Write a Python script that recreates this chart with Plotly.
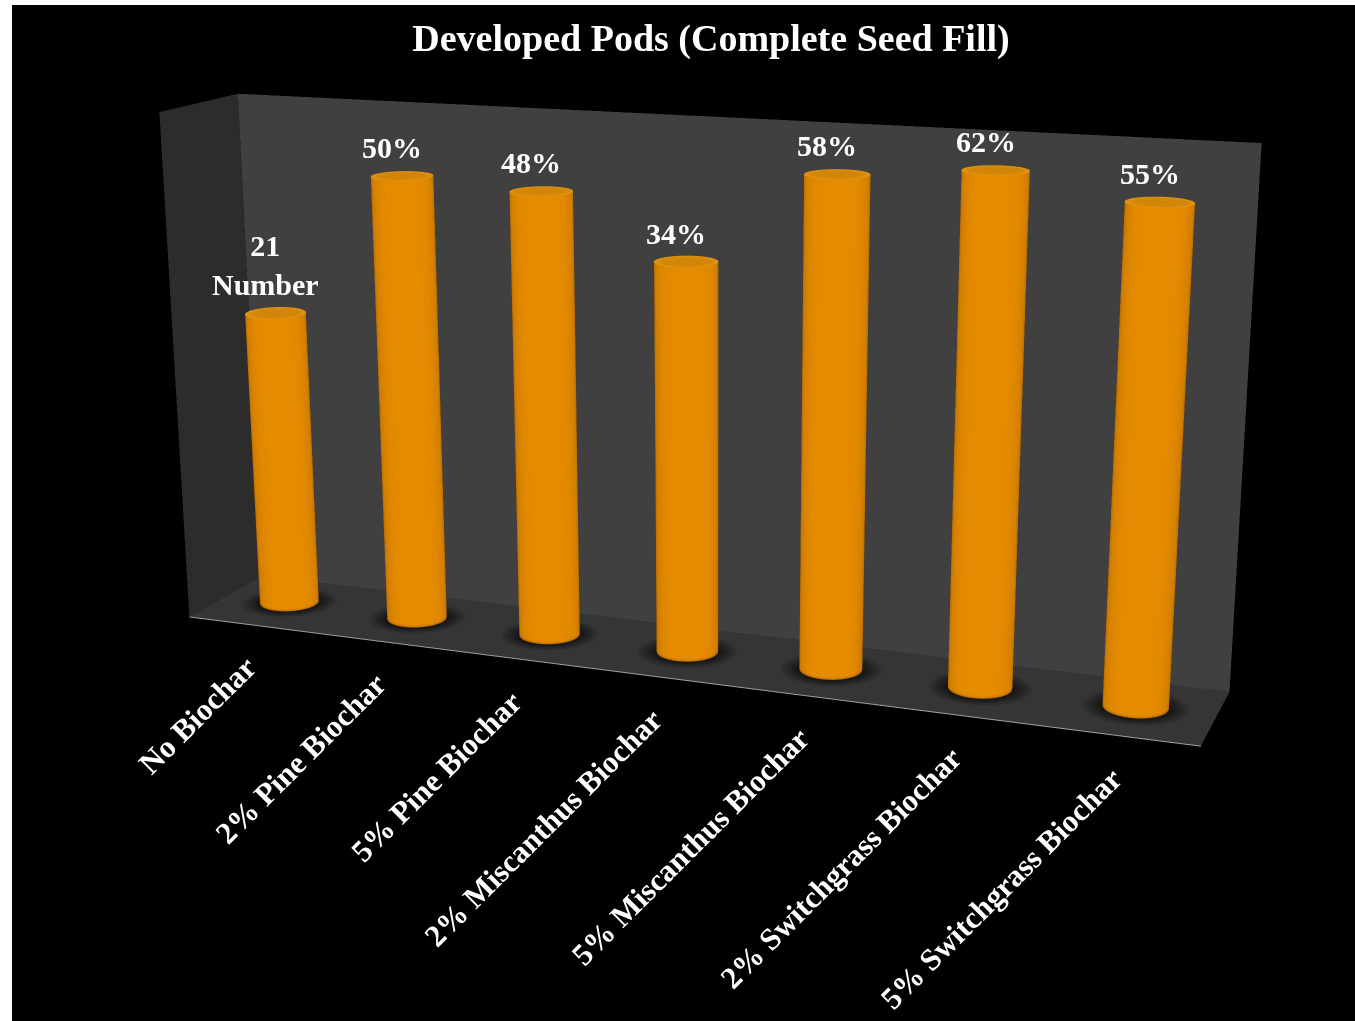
import numpy as np
import plotly.graph_objects as go

categories = ["No Biochar", "2% Pine Biochar", "5% Pine Biochar", "2% Miscanthus Biochar",
              "5% Miscanthus Biochar", "2% Switchgrass Biochar", "5% Switchgrass Biochar"]
values = [21, 50, 48, 34, 58, 62, 55]
value_labels = ["21<br>Number", "50%", "48%", "34%", "58%", "62%", "55%"]
title_text = "Developed Pods (Complete Seed Fill)"

Z_MIN, Z_MAX = 3.4, 72.0
ASPECT = dict(x=2.0, y=0.2878, z=0.9982)
EYE = dict(x=1.6803, y=-4.3834, z=1.1495)
CENTER = dict(x=-0.0513, y=0.1208, z=-0.26)
UP = dict(x=-0.0786, y=0.2145, z=1.0)
FONT = "Liberation Serif"

# The reference has a long-lens perspective (about 19 degrees) while a Plotly scene always
# uses 45 degrees: draw a larger scene and show its central part through the page.
CANVAS_W, CANVAS_H = 1600, 2168
PAGE_LEFT, PAGE_TOP = -116, -571
FRAME_LEFT, FRAME_TOP = 12, 5

RX = 0.205
RY = RX / 7 * ASPECT["x"] / ASPECT["y"]
BAR_Y = 0.51
LIGHT = dict(ambient=1, diffuse=0, specular=0, fresnel=0, roughness=1)
FLOOR = "#353535"


def panel(xs, ys, zs, color):
    return go.Mesh3d(x=xs, y=ys, z=zs, i=[0, 0], j=[1, 2], k=[2, 3], color=color,
                     flatshading=True, lighting=LIGHT, hoverinfo="skip", showscale=False)


fig = go.Figure()
Z_FLOOR = Z_MIN * 1.003
fig.add_trace(panel([0, 7, 7, 0], [1, 1, 1, 1], [Z_FLOOR, Z_FLOOR, Z_MAX, Z_MAX], "#404040"))
fig.add_trace(panel([0, 0, 0, 0], [0, 1, 1, 0], [Z_FLOOR, Z_FLOOR, Z_MAX, Z_MAX], "#2c2c2c"))
fig.add_trace(panel([0, 7, 7, 0], [0, 0, 1, 1], [Z_FLOOR] * 4, FLOOR))
fig.add_trace(go.Scatter3d(x=[0, 7], y=[0, 0], z=[Z_FLOOR, Z_FLOOR], mode="lines",
                           line=dict(color="#a0a0a0", width=2), hoverinfo="skip", showlegend=False))

theta = np.linspace(0, 2 * np.pi, 121)
body_scale = [[0, "#7a3a00"], [0.08, "#b06400"], [0.35, "#d07e00"], [0.7, "#e08800"], [1, "#e68c00"]]
shadow_scale = [[0, "#121212"], [0.62, "#161616"], [1, FLOOR]]
cap_scale = [[0, "#d08408"], [0.78, "#d48808"], [1, "#e49814"]]

rr = np.linspace(0, 1, 14)
R, T = np.meshgrid(rr, theta)
for i, v in enumerate(values):
    cx = i + 0.5
    view = np.array([EYE["x"] - (cx / 7 - 0.5) * ASPECT["x"],
                     EYE["y"] - (BAR_Y - 0.5) * ASPECT["y"]])
    view = view / np.linalg.norm(view)
    fig.add_trace(go.Surface(x=cx + 1.65 * RX * R * np.cos(T), y=BAR_Y + 1.65 * RY * R * np.sin(T),
                             z=np.full(R.shape, Z_MIN * 1.008), surfacecolor=R,
                             colorscale=shadow_scale, cmin=0, cmax=1, showscale=False,
                             lighting=LIGHT, hoverinfo="skip"))
    zz = np.array([Z_MIN * 1.008, Z_MIN * 1.03, v])
    Tb, Zb = np.meshgrid(theta, zz)
    shade = np.clip(np.cos(Tb) * view[0] + np.sin(Tb) * view[1], 0, 1)
    shade[0, :] = 0.02
    fig.add_trace(go.Surface(x=cx + RX * np.cos(Tb), y=BAR_Y + RY * np.sin(Tb), z=Zb,
                             surfacecolor=shade, colorscale=body_scale, cmin=0, cmax=1,
                             showscale=False, lighting=LIGHT, hoverinfo="skip"))
    fig.add_trace(go.Surface(x=cx + RX * R * np.cos(T), y=BAR_Y + RY * R * np.sin(T),
                             z=np.full(R.shape, float(v)), surfacecolor=R,
                             colorscale=cap_scale, cmin=0, cmax=1, showscale=False,
                             lighting=LIGHT, hoverinfo="skip"))

annotations = []
for i, (v, t) in enumerate(zip(values, value_labels)):
    annotations.append(dict(x=i + 0.5, y=BAR_Y, z=float(np.log10(v)), text=t, showarrow=False,
                            xanchor="center", yanchor="bottom", xshift=-10, yshift=10,
                            font=dict(family=FONT, size=30, color="white", weight="bold")))
for i, c in enumerate(categories):
    annotations.append(dict(x=i + 0.5, y=0.001, z=float(np.log10(Z_FLOOR)), text=c, showarrow=False,
                            xanchor="right", yanchor="top", textangle=-45, xshift=13, yshift=-22,
                            font=dict(family=FONT, size=31, color="white", weight="bold")))

hidden = dict(visible=False, showbackground=False, showgrid=False, zeroline=False, showspikes=False)
fig.update_layout(
    width=CANVAS_W, height=CANVAS_H, showlegend=False, autosize=False,
    paper_bgcolor="black",
    margin=dict(l=0, r=0, t=0, b=0, pad=0),
    title=dict(text=title_text, x=(711 - PAGE_LEFT) / CANVAS_W, y=1 - (38 - PAGE_TOP) / CANVAS_H,
               xanchor="center", yanchor="middle", automargin=False,
               font=dict(family=FONT, size=38, color="white", weight="bold")),
    scene=dict(
        domain=dict(x=[0, 1], y=[0, 1]),
        bgcolor="black", aspectmode="manual", aspectratio=ASPECT,
        camera=dict(eye=EYE, center=CENTER, up=UP, projection=dict(type="perspective")),
        xaxis=dict(range=[0, 7], **hidden),
        yaxis=dict(range=[0, 1], **hidden),
        zaxis=dict(type="log", range=[np.log10(Z_MIN), np.log10(Z_MAX)], **hidden),
        annotations=annotations,
    ),
)
post = (
    "document.documentElement.style.overflow='hidden';"
    "document.body.style.margin='0';document.body.style.overflow='hidden';"
    "document.body.style.background='white';"
    "var g=document.getElementById('{plot_id}');"
    f"g.style.position='absolute';g.style.left='{PAGE_LEFT}px';g.style.top='{PAGE_TOP}px';"
    f"g.style.clipPath='inset({FRAME_TOP - PAGE_TOP}px 0 0 {FRAME_LEFT - PAGE_LEFT}px)';"
)
fig.write_html("out.html", post_script=post, config=dict(displayModeBar=False, responsive=False))
